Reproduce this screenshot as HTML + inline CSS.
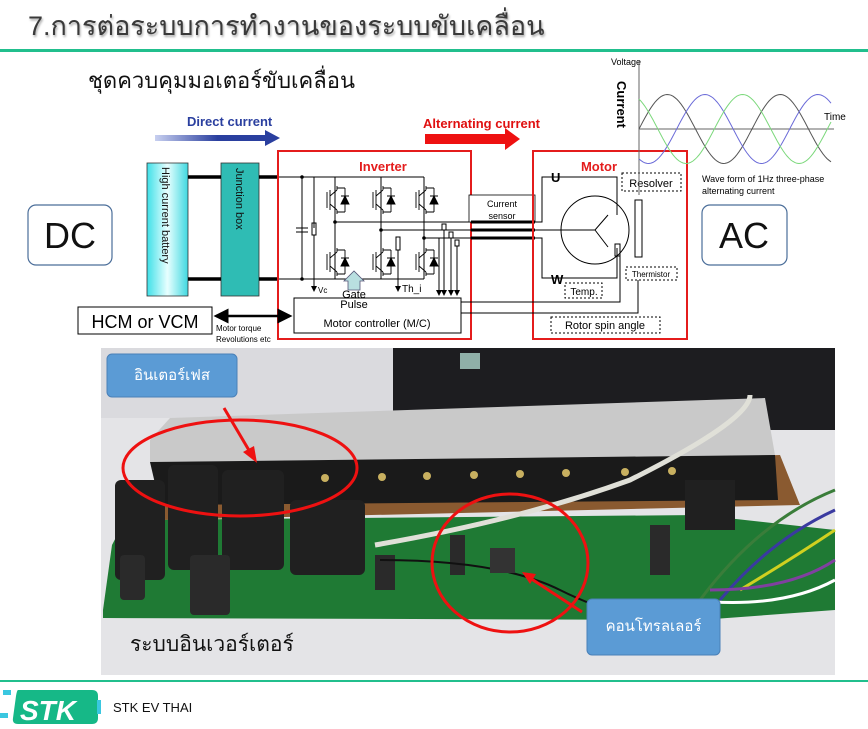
<!DOCTYPE html>
<html><head><meta charset="utf-8"><style>
html,body{margin:0;padding:0;background:#fff;}
body{width:868px;height:729px;position:relative;overflow:hidden;font-family:"Liberation Sans","DejaVu Sans",sans-serif;}
.abs{position:absolute;}
svg text{font-family:"Liberation Sans","DejaVu Sans",sans-serif;}
</style></head><body>
<div class="abs" style="left:28px;top:4px;font-size:27px;color:#3a3a3a;text-shadow:1px 2px 2px #aaa;font-family:'Liberation Sans','DejaVu Sans',sans-serif;">7.การต่อระบบการทำงานของระบบขับเคลื่อน</div>
<div class="abs" style="left:0;top:49px;width:868px;height:3px;background:#21bf8d;"></div>
<div class="abs" style="left:88px;top:63px;font-size:22px;color:#111;">ชุดควบคุมมอเตอร์ขับเคลื่อน</div>

<svg class="abs" style="left:0;top:0" width="868" height="729" viewBox="0 0 868 729">
<defs>
<linearGradient id="bat" x1="0" x2="1"><stop offset="0" stop-color="#3fe0e8"/><stop offset="0.5" stop-color="#e8ffff"/><stop offset="1" stop-color="#3fd8e0"/></linearGradient>
<linearGradient id="dcg" x1="0" x2="1"><stop offset="0" stop-color="#c8d0f0"/><stop offset="0.5" stop-color="#2a3f9f"/><stop offset="1" stop-color="#2a3f9f"/></linearGradient>
<marker id="ah" markerWidth="6" markerHeight="6" refX="5" refY="3" orient="auto"><path d="M0,0L6,3L0,6z" fill="#000"/></marker>
<marker id="ahs" markerWidth="6" markerHeight="6" refX="1" refY="3" orient="auto"><path d="M6,0L0,3L6,6z" fill="#000"/></marker>
<g id="sw" stroke="#000" stroke-width="0.9" fill="none">
<path d="M-6,-8V8M-3,-10V10M-3,-4L4,-10M-3,4L4,10M4,-10V-14M4,10V14"/><path d="M8,4L12,-4L16,4z" fill="#000"/><path d="M8,-4H16M12,-12V12M4,-12H12M4,12H12"/>
</g>
</defs>
<!-- DC / AC -->
<rect x="28" y="205" width="84" height="60" rx="8" fill="#fff" stroke="#4a6d99" stroke-width="1.2"/>
<text x="70" y="248" font-size="36" text-anchor="middle" fill="#111">DC</text>
<rect x="702" y="205" width="85" height="60" rx="8" fill="#fff" stroke="#4a6d99" stroke-width="1.2"/>
<text x="744" y="248" font-size="36" text-anchor="middle" fill="#111">AC</text>
<!-- arrows top -->
<text x="187" y="126" font-size="13" font-weight="bold" fill="#2a3f9f">Direct current</text>
<path d="M155,135H265V130L280,138L265,146V141H155z" fill="url(#dcg)"/>
<text x="423" y="128" font-size="13" font-weight="bold" fill="#e01010">Alternating current</text>
<path d="M425,134H505V128L520,139L505,150V144H425z" fill="#ee1111"/>
<!-- battery/junction -->
<rect x="147" y="163" width="41" height="133" fill="url(#bat)" stroke="#333" stroke-width="0.8"/>
<text transform="translate(162,167) rotate(90)" font-size="11" fill="#111">High current battery</text>
<rect x="221" y="163" width="38" height="133" fill="#2fbcb4" stroke="#333" stroke-width="0.8"/>
<text transform="translate(236,168) rotate(90)" font-size="11" fill="#111">Junction box</text>
<g stroke="#000" stroke-width="3.5"><line x1="188" y1="177" x2="221" y2="177"/><line x1="188" y1="279" x2="221" y2="279"/><line x1="259" y1="177" x2="279" y2="177"/><line x1="259" y1="279" x2="279" y2="279"/></g>
<!-- inverter -->
<rect x="278" y="151" width="193" height="188" fill="none" stroke="#e41c1c" stroke-width="2"/>
<text x="383" y="171" font-size="13" font-weight="bold" fill="#e41c1c" text-anchor="middle">Inverter</text>
<g stroke="#000" stroke-width="1" fill="none">
<line x1="279" y1="177" x2="424" y2="177"/><line x1="279" y1="279" x2="424" y2="279"/>
<line x1="302" y1="177" x2="302" y2="279"/>
<line x1="296" y1="228" x2="308" y2="228"/><line x1="296" y1="232" x2="308" y2="232"/>
<line x1="314" y1="177" x2="314" y2="228"/><rect x="312" y="223" width="4" height="12"/><line x1="314" y1="235" x2="314" y2="291" marker-end="url(#ah)"/>
<line x1="335" y1="177" x2="335" y2="279"/><line x1="381" y1="177" x2="381" y2="279"/><line x1="424" y1="177" x2="424" y2="279"/>
<line x1="335" y1="222" x2="471" y2="222"/><line x1="381" y1="230" x2="471" y2="230"/><line x1="424" y1="238" x2="471" y2="238"/>
<rect x="396" y="237" width="4" height="13"/><line x1="398" y1="250" x2="398" y2="291" marker-end="url(#ah)"/>
<rect x="442" y="224" width="4" height="6"/><rect x="449" y="232" width="4" height="6"/><rect x="455" y="240" width="4" height="6"/>
<line x1="444" y1="230" x2="444" y2="295" marker-end="url(#ah)"/><line x1="451" y1="238" x2="451" y2="295" marker-end="url(#ah)"/><line x1="457" y1="246" x2="457" y2="295" marker-end="url(#ah)"/>
<line x1="439" y1="238" x2="439" y2="295" marker-end="url(#ah)"/>
</g>
<g fill="#000">
<circle cx="302" cy="177" r="1.8"/><circle cx="302" cy="279" r="1.8"/><circle cx="335" cy="222" r="1.8"/><circle cx="381" cy="230" r="1.8"/><circle cx="424" cy="238" r="1.8"/>
</g>
<use href="#sw" x="333" y="200"/><use href="#sw" x="379" y="200"/><use href="#sw" x="422" y="200"/>
<use href="#sw" x="333" y="262"/><use href="#sw" x="379" y="262"/><use href="#sw" x="422" y="262"/>
<path d="M348,290V281H344L354,271L364,281H360V290z" fill="#b9dfe0" stroke="#557" stroke-width="0.8"/>
<text x="318" y="293" font-size="8">Vc</text><text x="402" y="292" font-size="10">Th_i</text>
<rect x="294" y="298" width="167" height="35" fill="#fff" stroke="#000" stroke-width="1"/>
<text x="354" y="298" font-size="11" text-anchor="middle">Gate</text>
<text x="354" y="308" font-size="11" text-anchor="middle">Pulse</text>
<text x="377" y="327" font-size="11" text-anchor="middle">Motor controller (M/C)</text>
<!-- current sensor -->
<rect x="469" y="195" width="66" height="27" fill="#fff" stroke="#000" stroke-width="0.8"/>
<text x="502" y="207" font-size="9" text-anchor="middle">Current</text><text x="502" y="219" font-size="9" text-anchor="middle">sensor</text>
<g stroke="#000" stroke-width="3"><line x1="471" y1="222" x2="535" y2="222"/><line x1="471" y1="230" x2="535" y2="230"/><line x1="471" y1="238" x2="535" y2="238"/></g>
<!-- HCM -->
<rect x="78" y="307" width="134" height="27" fill="#fff" stroke="#000" stroke-width="1"/>
<text x="145" y="328" font-size="18" text-anchor="middle">HCM or VCM</text>
<line x1="216" y1="316" x2="290" y2="316" stroke="#000" stroke-width="2.5" marker-end="url(#ah)" marker-start="url(#ahs)"/>
<text x="216" y="331" font-size="8">Motor torque</text><text x="216" y="342" font-size="8">Revolutions  etc</text>
<!-- motor -->
<rect x="533" y="151" width="154" height="188" fill="none" stroke="#e41c1c" stroke-width="2"/>
<text x="599" y="171" font-size="13" font-weight="bold" fill="#e41c1c" text-anchor="middle">Motor</text>
<g stroke="#000" stroke-width="1" fill="none">
<path d="M535,222H542V177H617V215"/><path d="M535,230H575"/><path d="M535,238H542V278H617V248"/>
<circle cx="595" cy="230" r="34"/>
<path d="M575,230H595L608,215M595,230L608,247"/>
<rect x="635" y="200" width="7" height="57"/><rect x="615" y="244" width="5" height="12"/>
<path d="M461,302H620V256"/><path d="M461,313H638V280"/>
<rect x="622" y="173" width="59" height="18" stroke-dasharray="2,2"/>
<rect x="626" y="267" width="51" height="13" stroke-dasharray="2,2"/>
<rect x="565" y="283" width="37" height="15" stroke-dasharray="2,2"/>
<rect x="551" y="317" width="109" height="16" stroke-dasharray="2,2"/>
</g>
<text x="551" y="182" font-size="13" font-weight="bold">U</text><text x="551" y="284" font-size="13" font-weight="bold">W</text>
<text x="651" y="187" font-size="11" text-anchor="middle">Resolver</text>
<text x="651" y="277" font-size="8" text-anchor="middle">Thermistor</text>
<text x="584" y="295" font-size="10" text-anchor="middle">Temp.</text>
<text x="605" y="329" font-size="11" text-anchor="middle">Rotor spin angle</text>
<!-- waves -->
<text x="611" y="65" font-size="9">Voltage</text>
<text transform="translate(617,81) rotate(90)" font-size="13" font-weight="bold">Current</text>
<line x1="639" y1="60" x2="639" y2="195" stroke="#666"/><line x1="639" y1="129" x2="834" y2="129" stroke="#666"/>
<text x="824" y="120" font-size="10">Time</text>
<polyline id="w1" fill="none" stroke="#555" stroke-width="1"/><polyline id="w2" fill="none" stroke="#6a6ad8" stroke-width="1"/><polyline id="w3" fill="none" stroke="#7bd87b" stroke-width="1"/>
<text x="702" y="182" font-size="9">Wave form of 1Hz three-phase</text><text x="702" y="194" font-size="9">alternating current</text>

<!-- PHOTO -->
<g>
<rect x="101" y="348" width="734" height="327" fill="#e4e4e7"/>
<rect x="101" y="348" width="300" height="70" fill="#dadade"/>
<rect x="393" y="348" width="442" height="82" fill="#1d1d20"/>
<rect x="460" y="353" width="20" height="16" fill="#8fb0a8"/>
<polygon points="103,610 112,545 125,520 700,515 835,530 835,610 700,620 103,618" fill="#1f7a34"/>
<polygon points="165,470 780,455 800,505 160,520" fill="#8a5a30"/>
<polygon points="150,440 170,418 765,398 775,455 150,462" fill="#c9c9c9"/>
<polygon points="150,462 775,455 778,500 160,505" fill="#1a1a1a"/>
<g fill="#c8b060"><circle cx="185" cy="482" r="4"/><circle cx="230" cy="480" r="4"/><circle cx="277" cy="479" r="4"/><circle cx="325" cy="478" r="4"/><circle cx="382" cy="477" r="4"/><circle cx="427" cy="476" r="4"/><circle cx="474" cy="475" r="4"/><circle cx="520" cy="474" r="4"/><circle cx="566" cy="473" r="4"/><circle cx="625" cy="472" r="4"/><circle cx="672" cy="471" r="4"/></g>
<g fill="#202020"><rect x="115" y="480" width="50" height="100" rx="6"/><rect x="168" y="465" width="50" height="105" rx="6"/><rect x="222" y="470" width="62" height="100" rx="6"/><rect x="290" y="500" width="75" height="75" rx="6"/><rect x="685" y="480" width="50" height="50"/></g>
<g fill="#2a2a2a"><rect x="120" y="555" width="25" height="45" rx="4"/><rect x="190" y="555" width="40" height="60" rx="4"/><rect x="375" y="555" width="20" height="35"/><rect x="450" y="535" width="15" height="40"/><rect x="650" y="525" width="20" height="50"/></g>
<path d="M375,545 Q520,520 630,480 Q750,420 750,395" stroke="#e0e0d8" stroke-width="5" fill="none"/>
<path d="M380,560 Q500,560 560,590 T720,640" stroke="#111" stroke-width="2" fill="none"/>
<rect x="490" y="548" width="25" height="25" fill="#333"/>
<g stroke-width="3" fill="none"><path d="M700,600 Q760,520 835,490" stroke="#3a7d3a"/><path d="M720,600 Q770,540 835,510" stroke="#3a3aa0"/><path d="M740,590 Q790,560 835,530" stroke="#d0d020"/><path d="M710,590 Q790,590 835,560" stroke="#8040a0"/><path d="M690,600 Q780,610 835,580" stroke="#fff"/></g>
<ellipse cx="240" cy="468" rx="117" ry="48" fill="none" stroke="#ee1111" stroke-width="3"/>
<ellipse cx="510" cy="563" rx="78" ry="69" fill="none" stroke="#ee1111" stroke-width="3"/>
<line x1="224" y1="408" x2="250" y2="452" stroke="#ee1111" stroke-width="3"/><path d="M257,463 L243,452 L254,446z" fill="#ee1111"/>
<line x1="582" y1="612" x2="530" y2="578" stroke="#ee1111" stroke-width="3"/><path d="M522,572 L536,574 L530,584z" fill="#ee1111"/>
<rect x="107" y="354" width="130" height="43" rx="5" fill="#5b9bd5" stroke="#4a80b8"/>
<rect x="587" y="599" width="133" height="56" rx="5" fill="#5b9bd5" stroke="#4a80b8"/>
</g>
<!-- footer -->
<line x1="0" y1="681" x2="868" y2="681" stroke="#21bf8d" stroke-width="2"/>
<path d="M18,690H92Q98,690 98,696V718Q98,724 92,724H18Q12,724 13,718L16,696Q17,690 18,690z" fill="#16b887"/>
<rect x="3" y="690" width="8" height="5" fill="#3ac7e0"/><rect x="0" y="713" width="8" height="5" fill="#3ac7e0"/><rect x="97" y="700" width="4" height="14" fill="#3ac7e0"/>
<text x="20" y="720" font-size="28" font-weight="bold" font-style="italic" fill="#fff">STK</text>
<text x="113" y="712" font-size="13" fill="#111">STK EV THAI</text>
</svg>
<div class="abs" style="left:107px;top:354px;width:130px;height:43px;line-height:43px;text-align:center;color:#fff;font-size:15px;">อินเตอร์เฟส</div>
<div class="abs" style="left:587px;top:599px;width:133px;height:56px;line-height:56px;text-align:center;color:#fff;font-size:15px;">คอนโทรลเลอร์</div>
<div class="abs" style="left:130px;top:628px;font-size:21px;color:#111;">ระบบอินเวอร์เตอร์</div>
<script>
function w(id,ph){var p=[];for(var x=639;x<=832;x+=2){var y=129-34.5*Math.sin((x-639)/113*2*Math.PI+ph);p.push(x+','+y.toFixed(1));}document.getElementById(id).setAttribute('points',p.join(' '));}
w('w1',0);w('w2',-2*Math.PI/3);w('w3',2*Math.PI/3);
</script>
</body></html>
